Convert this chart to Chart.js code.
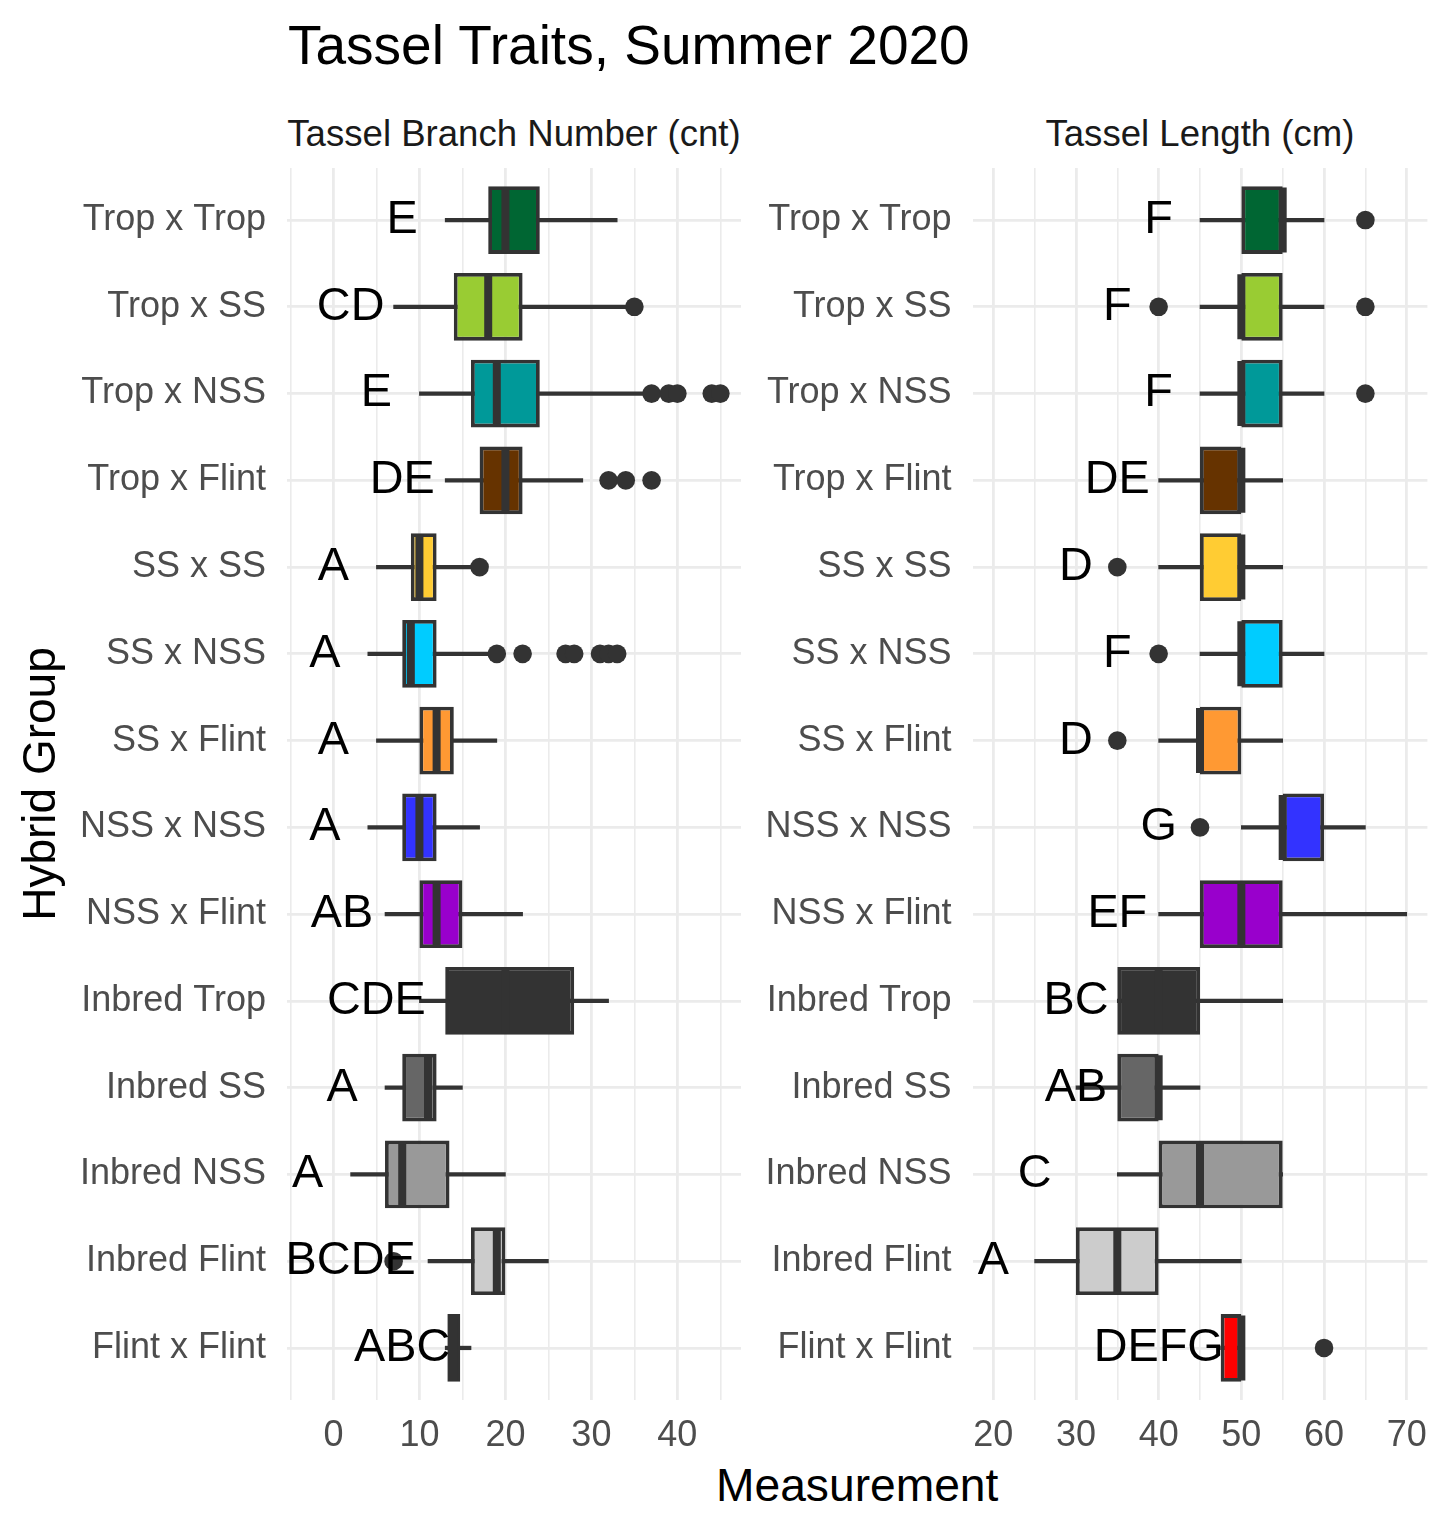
<!DOCTYPE html>
<html>
<head>
<meta charset="utf-8">
<script src="https://cdn.jsdelivr.net/npm/chart.js@4.4.1/dist/chart.umd.min.js"></script>
<style>
  html, body { margin: 0; padding: 0; background: #ffffff; }
  #wrap { position: relative; width: 1450px; height: 1533px; overflow: hidden;
          font-family: 'Liberation Sans', Arial, Helvetica, sans-serif; }
  .t { position: absolute; white-space: nowrap; }
  canvas { position: absolute; top: 0; }
</style>
</head>
<body>
<div id="wrap">
  <div class="t" style="left:288px; top:17.5px; font-size:55px; line-height:55px; color:#000;">Tassel Traits, Summer 2020</div>
  <div class="t" style="left:287px; width:454px; text-align:center; top:116px; font-size:36.6px; line-height:36.6px; color:#1a1a1a;">Tassel Branch Number (cnt)</div>
  <div class="t" style="left:972.6px; width:454.8px; text-align:center; top:116px; font-size:36.6px; line-height:36.6px; color:#1a1a1a;">Tassel Length (cm)</div>
  <div class="t" style="left:287px; width:1140.4px; text-align:center; top:1461.5px; font-size:46.2px; line-height:46.2px; color:#000;">Measurement</div>
  <canvas id="left" width="760" height="1533" style="left:0px; width:760px; height:1533px;"></canvas>
  <canvas id="right" width="690" height="1533" style="left:760px; width:690px; height:1533px;"></canvas>
</div>
<script>
// ---------- data ----------
const categories = ['Trop x Trop','Trop x SS','Trop x NSS','Trop x Flint','SS x SS','SS x NSS','SS x Flint',
                    'NSS x NSS','NSS x Flint','Inbred Trop','Inbred SS','Inbred NSS','Inbred Flint','Flint x Flint'];
const boxColors = ['#006633','#99CC33','#009999','#663300','#FFCC33','#00CCFF','#FF9933',
                   '#3333FF','#9900CC','#333333','#666666','#999999','#CCCCCC','#FF0000'];

// Tassel Branch Number (cnt)
const branchLow      = [13, 7, 10, 13, 5, 4, 5, 4, 6, 10, 6, 2, 11, 13];
const branchQ1       = [18, 14, 16, 17, 9, 8, 10, 8, 10, 13, 8, 6, 16, 13.25];
const branchMedian   = [20, 18, 19, 20, 10, 9, 12, 10, 12, 20, 11, 8, 19, 14];
const branchQ3       = [24, 22, 24, 22, 12, 12, 14, 12, 15, 28, 12, 13.5, 20, 14.75];
const branchHigh     = [33, 34, 36, 29, 16, 18, 19, 17, 22, 32, 15, 20, 25, 16];
const branchOutliers = [[], [35], [37, 39, 40, 44, 45], [32, 34, 37], [17], [19, 22, 27, 28, 31, 32, 33],
                        [], [], [], [], [], [], [7], []];
const branchLetters  = ['E','CD','E','DE','A','A','A','A','AB','CDE','A','A','BCDE','ABC'];
const branchLetterX  = [8, 2, 5, 8, 0, -1, 0, -1, 1, 5, 1, -3, 2, 8];
const branchTicks    = [0, 10, 20, 30, 40];
const branchMinor    = [-5, 5, 15, 25, 35, 45];

// Tassel Length (cm)
const lengthLow      = [45, 45, 45, 40, 40, 45, 40, 50, 40, 35, 30, 35, 25, 47.5];
const lengthQ1       = [50, 50, 50, 45, 45, 50, 45, 55, 45, 35, 35, 40, 30, 47.5];
const lengthMedian   = [55, 50, 50, 50, 50, 50, 45, 55, 50, 40, 40, 45, 35, 50];
const lengthQ3       = [55, 55, 55, 50, 50, 55, 50, 60, 55, 45, 40, 55, 40, 50];
const lengthHigh     = [60, 60, 60, 55, 55, 60, 55, 65, 70, 55, 45, 55, 50, 50];
const lengthOutliers = [[65], [40, 65], [65], [], [35], [40], [35], [45], [], [], [], [], [], [60]];
const lengthLetters  = ['F','F','F','DE','D','F','D','G','EF','BC','AB','C','A','DEFG'];
const lengthLetterX  = [40, 35, 40, 35, 30, 35, 30, 40, 35, 30, 30, 25, 20, 40];
const lengthTicks    = [20, 30, 40, 50, 60, 70];
const lengthMinor    = [25, 35, 45, 55, 65];

// ---------- drawing ----------
const FAMILY = "'Liberation Sans', Arial, Helvetica, sans-serif";

const letterPlugin = {
  id: 'letters',
  afterDatasetsDraw(chart, args, opts) {
    const { ctx } = chart;
    const xs = chart.scales.x, ys = chart.scales.y;
    ctx.save();
    ctx.font = '46.8px ' + FAMILY;
    ctx.fillStyle = '#000000';
    ctx.textAlign = 'center';
    ctx.textBaseline = 'middle';
    opts.letters.forEach((t, i) => {
      ctx.fillText(t, xs.getPixelForValue(opts.xs[i]), ys.getPixelForValue(i));
    });
    ctx.restore();
  }
};

function buildChart(canvasId, p) {
  const idx = categories.map((_, i) => i);
  const gridVals = p.ticks.concat(p.minor).sort((a, b) => a - b);
  return new Chart(document.getElementById(canvasId), {
    type: 'bar',
    data: {
      datasets: [
        {
          type: 'bar', label: 'whiskers',
          data: idx.map(i => ({ x: [p.low[i], p.high[i]], y: i })),
          backgroundColor: '#333333', borderWidth: 0, grouped: false,
          maxBarThickness: 3.6, categoryPercentage: 1, barPercentage: 1, order: 3
        },
        {
          type: 'bar', label: 'boxes',
          data: idx.map(i => ({ x: [p.q1[i], p.q3[i]], y: i })),
          backgroundColor: boxColors, borderColor: '#333333', borderWidth: 3.8,
          borderSkipped: false, grouped: false,
          categoryPercentage: 1, barPercentage: 0.78, order: 2
        },
        {
          type: 'line', label: 'median',
          data: idx.map(i => ({ x: p.median[i], y: i })),
          showLine: false, pointStyle: 'line', pointRotation: 90, pointRadius: 32.5,
          borderColor: '#333333', pointBorderColor: '#333333', pointBorderWidth: 8,
          order: 1
        },
        {
          type: 'line', label: 'outliers',
          data: p.outliers.flatMap((arr, i) => arr.map(v => ({ x: v, y: i }))),
          showLine: false, pointStyle: 'circle', pointRadius: 9.3,
          pointBackgroundColor: '#333333', pointBorderWidth: 0, borderColor: '#333333',
          order: 0
        }
      ]
    },
    options: {
      indexAxis: 'y',
      responsive: false,
      animation: false,
      events: [],
      devicePixelRatio: 1,
      layout: { autoPadding: false, padding: { top: 168, bottom: 0, left: 0, right: p.padRight } },
      plugins: {
        legend: { display: false },
        tooltip: { enabled: false },
        letters: { letters: p.letters, xs: p.letterX }
      },
      scales: {
        x: {
          type: 'linear', min: p.min, max: p.max, bounds: 'data', offset: false,
          afterBuildTicks: s => { s.ticks = gridVals.map(v => ({ value: v })); },
          afterFit: s => { s.height = 133; },
          ticks: {
            autoSkip: false, maxRotation: 0, padding: 14,
            callback: v => p.ticks.includes(v) ? String(v) : '',
            font: { size: 36, family: FAMILY }, color: '#4D4D4D'
          },
          grid: {
            color: '#EBEBEB', drawTicks: false, offset: false,
            lineWidth: c => (c.tick && p.ticks.includes(c.tick.value)) ? 2.8 : 1.6
          },
          border: { display: false }
        },
        y: {
          type: 'linear', reverse: true, min: -0.6, max: categories.length - 0.4,
          bounds: 'data', offset: false,
          afterBuildTicks: s => { s.ticks = idx.map(i => ({ value: i })); },
          afterFit: s => { s.width = p.yWidth; },
          ticks: {
            autoSkip: false, padding: 21,
            callback: v => categories[v],
            font: { size: 36, family: FAMILY }, color: '#4D4D4D'
          },
          grid: { color: '#EBEBEB', drawTicks: false, offset: false, lineWidth: 2.8 },
          border: { display: false },
          title: {
            display: p.showYTitle, text: 'Hybrid Group', color: '#000000',
            font: { size: 46, family: FAMILY, lineHeight: 1 },
            padding: { top: 19, bottom: 0 }
          }
        }
      }
    },
    plugins: [letterPlugin]
  });
}

buildChart('left', {
  low: branchLow, q1: branchQ1, median: branchMedian, q3: branchQ3, high: branchHigh,
  outliers: branchOutliers, letters: branchLetters, letterX: branchLetterX,
  ticks: branchTicks, minor: branchMinor,
  min: -5.4, max: 47.4, yWidth: 287, padRight: 19, showYTitle: true
});

buildChart('right', {
  low: lengthLow, q1: lengthQ1, median: lengthMedian, q3: lengthQ3, high: lengthHigh,
  outliers: lengthOutliers, letters: lengthLetters, letterX: lengthLetterX,
  ticks: lengthTicks, minor: lengthMinor,
  min: 17.5, max: 72.5, yWidth: 212.6, padRight: 22.6, showYTitle: false
});
</script>
</body>
</html>
